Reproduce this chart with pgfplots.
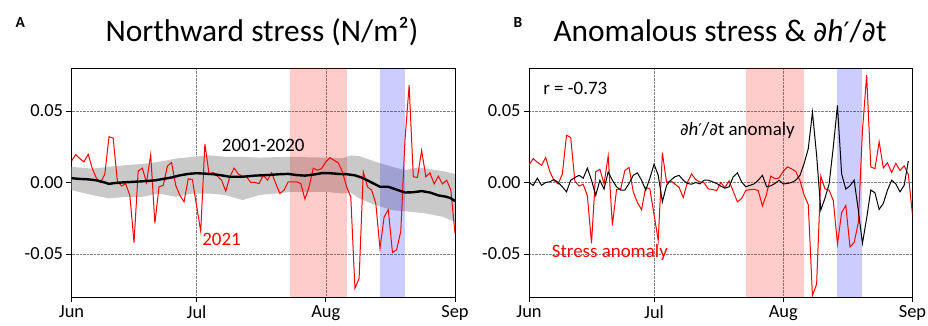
\documentclass[border=0pt]{standalone}
\usepackage{fontspec}
\setmainfont{Carlito}
\newfontfamily\dejavu{DejaVu Sans}
\newcommand{\pr}{{\dejavu\fontsize{0.85em}{1em}\selectfont ′}}
\newcommand{\pd}{{\dejavu\fontsize{0.88em}{1em}\selectfont ∂}}
\usepackage{pgfplots}
\pgfplotsset{compat=1.18}
\usepackage{pgfplotstable}

\pgfplotstableread{
day val
0 0.0150
1 0.0195
2 0.0167
3 0.0144
4 0.0197
5 0.0097
6 0.0028
7 0.0000
8 0.0060
9 0.0320
10 0.0310
11 0.0010
12 -0.0025
13 -0.0010
14 -0.0090
15 -0.0420
16 0.0080
17 0.0100
18 0.0000
19 0.0195
20 -0.0285
21 -0.0030
22 -0.0020
23 0.0114
24 0.0140
25 -0.0020
26 -0.0090
27 -0.0135
28 0.0026
29 0.0020
30 -0.0160
31 -0.0340
32 0.0270
33 0.0060
34 0.0070
35 0.0044
36 0.0016
37 -0.0060
38 0.0040
39 0.0100
40 0.0060
41 0.0044
42 0.0040
43 0.0000
44 0.0000
45 -0.0007
46 0.0050
47 0.0016
48 0.0067
49 -0.0007
50 -0.0077
51 -0.0053
52 0.0005
53 0.0005
54 0.0005
55 -0.0007
56 -0.0116
57 -0.0030
58 0.0100
59 0.0086
60 0.0097
61 0.0144
62 0.0174
63 0.0155
64 0.0137
65 0.0074
66 -0.0030
67 -0.0100
68 -0.0740
69 -0.0670
70 0.0074
71 -0.0030
72 -0.0053
73 -0.0146
74 -0.0460
75 -0.0240
76 -0.0190
77 -0.0490
78 -0.0470
79 -0.0340
80 0.0295
81 0.0680
82 0.0040
83 0.0035
84 0.0225
85 0.0040
86 0.0067
87 -0.0010
88 0.0044
89 -0.0010
90 0.0016
91 -0.0053
92 -0.0355
}\redA

\pgfplotstableread{
day val
0 0.0030
2 0.0025
4 0.0022
6 0.0015
8 0.0000
9 -0.0010
10 -0.0005
12 0.0000
15 0.0005
18 0.0010
20 0.0015
22 0.0025
24 0.0035
26 0.0050
28 0.0060
30 0.0065
32 0.0062
34 0.0058
36 0.0050
38 0.0040
41 0.0040
44 0.0048
47 0.0052
50 0.0058
52 0.0060
54 0.0052
56 0.0048
58 0.0055
60 0.0065
62 0.0065
64 0.0060
66 0.0058
68 0.0050
70 0.0030
72 0.0000
74 -0.0030
76 -0.0030
78 -0.0050
80 -0.0070
82 -0.0068
84 -0.0060
86 -0.0070
88 -0.0090
90 -0.0100
91 -0.0110
92 -0.0130
}\climA

\pgfplotstableread{
day val
0 0.0109
5 0.0097
9 0.0110
13 0.0121
17 0.0130
21 0.0144
25 0.0167
29 0.0179
33 0.0190
37 0.0179
41 0.0179
45 0.0174
49 0.0177
53 0.0179
57 0.0176
61 0.0174
65 0.0170
67 0.0190
69 0.0185
73 0.0144
77 0.0109
80 0.0086
83 0.0105
85 0.0097
89 0.0080
92 0.0060
92 -0.0274
89 -0.0239
85 -0.0216
81 -0.0204
77 -0.0193
73 -0.0158
69 -0.0111
67 -0.0070
65 -0.0077
61 -0.0065
57 -0.0065
53 -0.0065
49 -0.0077
45 -0.0088
41 -0.0123
37 -0.0088
33 -0.0077
29 -0.0077
25 -0.0100
21 -0.0077
17 -0.0100
13 -0.0100
9 -0.0111
5 -0.0088
0 -0.0053
}\bandA

\pgfplotstableread{
day val
0 0.0120
1 0.0167
2 0.0142
3 0.0120
4 0.0175
5 0.0077
6 0.0013
7 -0.0010
8 0.0060
9 0.0330
10 0.0315
11 0.0010
12 -0.0025
13 -0.0012
14 -0.0093
15 -0.0425
16 0.0075
17 0.0092
18 -0.0010
19 0.0185
20 -0.0300
21 -0.0050
22 -0.0045
23 0.0084
24 0.0105
25 -0.0065
26 -0.0140
27 -0.0190
28 -0.0034
29 -0.0045
30 -0.0225
31 -0.0405
32 0.0208
33 0.0000
34 0.0012
35 -0.0011
36 -0.0034
37 -0.0105
38 0.0000
39 0.0060
40 0.0020
41 0.0004
42 -0.0002
43 -0.0045
44 -0.0048
45 -0.0057
46 0.0000
47 -0.0036
48 0.0012
49 -0.0062
50 -0.0135
51 -0.0113
52 -0.0055
53 -0.0050
54 -0.0047
55 -0.0057
56 -0.0164
57 -0.0080
58 0.0045
59 0.0026
60 0.0032
61 0.0079
62 0.0109
63 0.0095
64 0.0077
65 0.0014
66 -0.0088
67 -0.0155
68 -0.0790
69 -0.0710
70 0.0044
71 -0.0045
72 -0.0053
73 -0.0126
74 -0.0430
75 -0.0210
76 -0.0160
77 -0.0450
78 -0.0420
79 -0.0280
80 0.0365
81 0.0750
82 0.0108
83 0.0097
84 0.0285
85 0.0102
86 0.0137
87 0.0070
88 0.0134
89 0.0085
90 0.0116
91 0.0057
92 -0.0225
}\anomB

\pgfplotstableread{
day val
0 0.0000
1 -0.0020
2 0.0030
3 -0.0020
4 0.0000
5 0.0005
6 0.0020
7 0.0000
8 -0.0030
9 -0.0065
10 0.0016
11 0.0035
12 0.0050
13 0.0030
14 0.0100
15 0.0016
16 -0.0090
17 0.0016
18 -0.0046
19 0.0074
20 0.0016
21 -0.0030
22 -0.0053
23 -0.0053
24 -0.0007
25 0.0050
26 0.0067
27 0.0016
28 -0.0053
29 0.0030
30 0.0128
31 0.0050
32 -0.0135
33 -0.0020
34 0.0016
35 0.0040
36 0.0050
37 0.0016
38 -0.0007
39 -0.0012
40 0.0000
41 -0.0010
42 0.0016
43 0.0016
44 0.0005
45 -0.0007
46 -0.0025
47 -0.0040
48 -0.0030
49 0.0040
50 0.0067
51 0.0005
52 -0.0030
53 -0.0020
54 -0.0010
55 0.0016
56 0.0050
57 -0.0030
58 -0.0023
59 -0.0007
60 0.0016
61 -0.0010
62 -0.0007
63 0.0000
64 0.0016
65 0.0050
66 0.0132
67 0.0237
68 0.0490
69 0.0190
70 -0.0193
71 -0.0110
72 -0.0010
73 0.0248
74 0.0538
75 0.0060
76 -0.0046
77 -0.0023
78 0.0016
79 -0.0193
80 -0.0425
81 -0.0250
82 -0.0053
83 -0.0072
84 -0.0188
85 -0.0146
86 -0.0053
87 0.0016
88 -0.0010
89 -0.0065
90 -0.0020
91 0.0150
}\dhdt

\pgfplotsset{panel/.style={
  width=383.5bp, height=229bp, scale only axis,
  xmin=0, xmax=92, ymin=-0.08, ymax=0.08,
  xtick={0,30,61,92}, xticklabels={Jun,Jul,Aug,Sep},
  ytick={-0.05,0,0.05},
  scaled y ticks=false,
  /pgf/number format/assume math mode=true,
  yticklabel style={/pgf/number format/fixed, /pgf/number format/fixed zerofill, /pgf/number format/precision=2},
  tick label style={font=\fontsize{18.5}{20}\selectfont},
  tick align=outside, tick pos=left, major tick length=5bp,
  major tick style={black, line width=0.8bp},
  grid=major, major grid style={densely dotted, gray, line width=0.5bp},
  axis line style={line width=0.8bp},
  anchor=south west,
}}

\begin{document}
\begin{tikzpicture}
\path[use as bounding box] (0,0) rectangle (928bp,326bp);

\node[anchor=base west, font=\bfseries\fontsize{15.5}{17}\selectfont] at (12bp,298bp) {A};
\node[anchor=base west, font=\bfseries\fontsize{15.5}{17}\selectfont] at (510bp,298bp) {B};
\node[anchor=base, font=\fontsize{31.5}{34}\selectfont] at (262bp,284bp) {Northward stress (N/m²)};
\node[anchor=base, font=\fontsize{31.5}{34}\selectfont] at (720bp,284bp) {Anomalous stress \& \pd\textit{h}\pr/\pd t};

\begin{axis}[panel, at={(71.5bp,29bp)}]
  \addplot[draw=none, fill=black!21] table[x=day, y=val] {\bandA} -- cycle;
  \addplot[draw=none, fill=red, fill opacity=0.2] coordinates {(52.3,-0.08) (52.3,0.08) (66.1,0.08) (66.1,-0.08)} -- cycle;
  \addplot[draw=none, fill=blue, fill opacity=0.2] coordinates {(74.1,-0.08) (74.1,0.08) (80.1,0.08) (80.1,-0.08)} -- cycle;
  \addplot[red, line width=1bp] table[x=day, y=val] {\redA};
  \addplot[black, line width=2.4bp] table[x=day, y=val] {\climA};
  \node[font=\fontsize{19}{22}\selectfont] at (axis cs:46,0.026) {2001-2020};
  \node[font=\fontsize{19}{22}\selectfont, text=red] at (axis cs:36,-0.040) {2021};
\end{axis}

\begin{axis}[panel, at={(529bp,29bp)}]
  \addplot[draw=none, fill=red, fill opacity=0.2] coordinates {(52.1,-0.08) (52.1,0.08) (66,0.08) (66,-0.08)} -- cycle;
  \addplot[draw=none, fill=blue, fill opacity=0.2] coordinates {(74,-0.08) (74,0.08) (80,0.08) (80,-0.08)} -- cycle;
  \addplot[red, line width=1bp] table[x=day, y=val] {\anomB};
  \addplot[black, line width=1bp] table[x=day, y=val] {\dhdt};
  \node[anchor=west, font=\fontsize{19}{22}\selectfont] at (axis cs:2.6,0.0657) {r = -0.73};
  \node[font=\fontsize{19}{22}\selectfont] at (axis cs:50,0.0364) {\pd\textit{h}\pr/\pd t anomaly};
  \node[font=\fontsize{19}{22}\selectfont, text=red] at (axis cs:19.4,-0.0486) {Stress anomaly};
\end{axis}
\end{tikzpicture}
\end{document}
